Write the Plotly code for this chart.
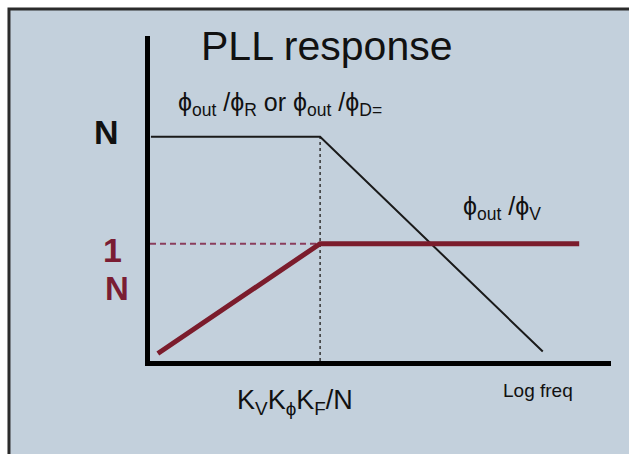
import plotly.graph_objects as go

# Asymptotic magnitude sketch (log-frequency on x, log-gain on y, arbitrary units)
corner_freq = 3.69          # loop bandwidth Kv*Kphi*KF/N
level_n = 6.90              # closed-loop gain N (reference / divider input)
level_inv_n = 3.61          # closed-loop gain 1/N (VCO input)

# phi_out/phi_R : flat at N, then rolls off
ref_x = [0.02, corner_freq, 8.52]
ref_y = [level_n, level_n, 0.29]

# phi_out/phi_V : rises to 1/N, then flat
vco_x = [0.17, corner_freq, 9.31]
vco_y = [0.23, level_inv_n, level_inv_n]

# guide lines
guide_h_x = [0.0, corner_freq]
guide_h_y = [level_inv_n, level_inv_n]
guide_v_x = [corner_freq, corner_freq]
guide_v_y = [0.0, level_n]

# y-axis level labels (paper coordinates, left of the axis)
level_labels = ["N", "1", "N"]
level_label_x = [-0.0954, -0.0813, -0.0705]
level_label_y = [0.7035, 0.3425, 0.2243]
level_label_colors = ["#111111", "#7a1d33", "#7a1d33"]
level_label_sizes = [34, 34, 33]

MAROON = "#7b1c2c"
FONT = "Liberation Sans, Arial, Helvetica, sans-serif"
PHI = "\u03d5"

fig = go.Figure()

fig.add_trace(go.Scatter(x=guide_h_x, y=guide_h_y, mode="lines",
                         line=dict(color="#8a3d5c", width=2, dash="6px,4px"),
                         hoverinfo="skip"))
fig.add_trace(go.Scatter(x=guide_v_x, y=guide_v_y, mode="lines",
                         line=dict(color="#333333", width=1.5, dash="dot"),
                         hoverinfo="skip"))
fig.add_trace(go.Scatter(x=ref_x, y=ref_y, mode="lines",
                         line=dict(color="#1a1a1a", width=2),
                         hoverinfo="skip"))
fig.add_trace(go.Scatter(x=vco_x, y=vco_y, mode="lines",
                         line=dict(color=MAROON, width=5),
                         hoverinfo="skip"))

annotations = [
    dict(x=0.385, y=0.9693, text="PLL response",
         font=dict(family=FONT, size=41, color="#111111")),
    dict(x=0.282, y=0.791,
         text=f"{PHI}<sub>out</sub> /{PHI}<sub>R</sub> or {PHI}<sub>out</sub> /{PHI}<sub>D=</sub>",
         font=dict(family=FONT, size=25, color="#111111")),
    dict(x=0.7636, y=0.4716, text=f"{PHI}<sub>out</sub> /{PHI}<sub>V</sub>",
         font=dict(family=FONT, size=25, color="#111111")),
    dict(x=0.3145, y=-0.1275, text=f"K<sub>V</sub>K<sub>{PHI}</sub>K<sub>F</sub>/N",
         font=dict(family=FONT, size=27, color="#111111")),
    dict(x=0.8416, y=-0.0906, text="Log freq",
         font=dict(family=FONT, size=19, color="#111111")),
]
for txt, lx, ly, col, sz in zip(level_labels, level_label_x, level_label_y,
                                level_label_colors, level_label_sizes):
    annotations.append(dict(x=lx, y=ly, text=f"<b>{txt}</b>",
                            font=dict(family=FONT, size=sz, color=col)))

for a in annotations:
    a.update(xref="paper", yref="paper", showarrow=False,
             xanchor="center", yanchor="middle")

# slide panel: blue-grey background with a dark frame along top and left
shapes = [dict(type="rect", xref="paper", yref="paper",
               x0=-0.3059, x1=1.07, y0=-0.33, y1=1.083,
               fillcolor="#c3d0dc", line=dict(color="#2b2b2b", width=3),
               layer="below")]

fig.update_layout(
    width=629, height=454,
    margin=dict(l=150, r=18, t=36, b=92.5, pad=0),
    paper_bgcolor="#ffffff",
    plot_bgcolor="rgba(0,0,0,0)",
    showlegend=False,
    annotations=annotations,
    shapes=shapes,
    xaxis=dict(range=[0, 10], showgrid=False, zeroline=False, showticklabels=False,
               ticks="", showline=True, linecolor="#000000", linewidth=5),
    yaxis=dict(range=[0, 10], showgrid=False, zeroline=False, showticklabels=False,
               ticks="", showline=True, linecolor="#000000", linewidth=5),
)

fig.write_html("out.html")
